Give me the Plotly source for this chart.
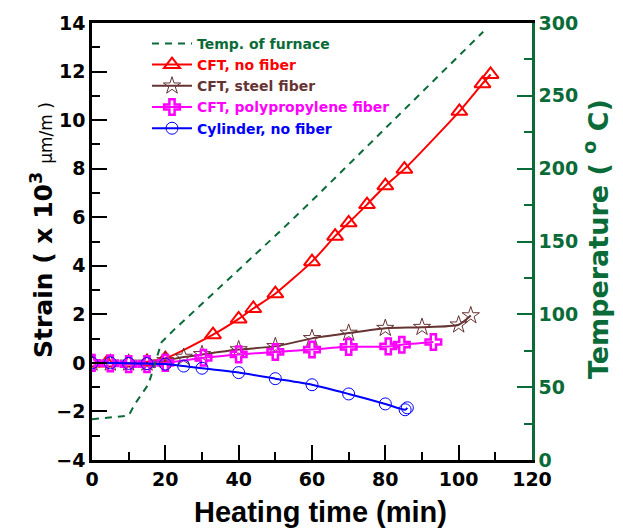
import plotly.graph_objects as go

# ---- data ----
temp_t = [0, 10, 11.7, 15.4, 19.0, 22.2, 51.3, 60.8, 106.7]
temp_T = [28, 30.5, 38.5, 52, 81, 89, 157, 180, 294]

red_t = [0, 4, 10, 15, 20, 33, 40, 44, 50, 60, 66.3, 70, 75, 80, 85.2, 100.2, 106.5, 108.7]
red_s = [0.0, 0.0, 0.0, 0.05, 0.18, 1.16, 1.81, 2.24, 2.85, 4.17, 5.22, 5.77, 6.52, 7.3, 7.98, 10.36, 11.5, 11.88]

steel_t = [0, 5, 10, 15, 20, 25, 30, 40, 50, 60, 70, 80, 90, 100, 103.3]
steel_s = [0.0, 0.0, 0.0, 0.0, 0.1, 0.24, 0.35, 0.55, 0.68, 1.01, 1.23, 1.43, 1.47, 1.57, 1.95]

pp_t = [0, 5, 10, 15, 20, 30.4, 40, 50, 60, 70, 80.8, 84.5, 93.1]
pp_s = [0.0, -0.02, -0.05, -0.05, 0.0, 0.21, 0.35, 0.45, 0.55, 0.66, 0.68, 0.75, 0.86]

cyl_t = [0, 5, 10, 15, 20, 25, 30, 40, 50, 60, 70, 80, 85.4, 86.0]
cyl_s = [0.0, 0.0, -0.02, -0.03, -0.05, -0.13, -0.22, -0.4, -0.65, -0.9, -1.28, -1.69, -1.93, -1.85]

x_title = "Heating time (min)"
y_title = "<b>Strain ( x 10<sup>3</sup></b> <span style='font-size:17px'>μm/m )</span>"
y2_title = "<b>Temperature ( <sup>o</sup> C)</b>"

GREEN = "#0b6b38"
BROWN = "#663333"
FONT = "DejaVu Sans, Liberation Sans, Arial, sans-serif"
TFONT = "Liberation Sans, Arial, sans-serif"

fig = go.Figure()

fig.add_trace(go.Scatter(
    x=temp_t, y=temp_T, yaxis="y2", mode="lines",
    line=dict(color=GREEN, width=2, dash="7px,6px"),
    name=f"<span style='color:{GREEN}'>Temp. of furnace</span>"))

fig.add_trace(go.Scatter(
    x=red_t, y=red_s, mode="lines+markers",
    line=dict(color="#ff0000", width=2, shape="spline", smoothing=0.6),
    marker=dict(symbol="triangle-up-open", size=14, color="#ff0000", line=dict(width=2)),
    name="<span style='color:#ff0000'>CFT, no fiber</span>"))

fig.add_trace(go.Scatter(
    x=steel_t, y=steel_s, mode="lines+markers",
    line=dict(color=BROWN, width=2, shape="spline", smoothing=0.6),
    marker=dict(symbol="star-open", size=13, color=BROWN, line=dict(width=1)),
    name=f"<span style='color:{BROWN}'>CFT, steel fiber</span>"))

fig.add_trace(go.Scatter(
    x=pp_t, y=pp_s, mode="lines+markers",
    line=dict(color="#ff00ff", width=2, shape="spline", smoothing=0.6),
    marker=dict(symbol="cross-open", size=13, color="#ff00ff", line=dict(width=2.5)),
    name="<span style='color:#ff00ff'>CFT, polypropylene fiber</span>"))

fig.add_trace(go.Scatter(
    x=cyl_t, y=cyl_s, mode="lines+markers",
    line=dict(color="#0000ff", width=2, shape="spline", smoothing=0.6),
    marker=dict(symbol="circle-open", size=12, color="#0000ff", line=dict(width=1)),
    name="<span style='color:#0000ff'>Cylinder, no fiber</span>"))

tickfont = dict(family=FONT, size=19, color="black", weight="bold")

fig.update_layout(
    width=623, height=532,
    margin=dict(l=92, r=91, t=18, b=72),
    paper_bgcolor="white", plot_bgcolor="white",
    font=dict(family=FONT),
    showlegend=True,
    legend=dict(x=0.125, y=0.989, xanchor="left", yanchor="top",
                bgcolor="rgba(0,0,0,0)", font=dict(family=FONT, size=14, weight="bold"),
                tracegroupgap=0, itemwidth=40),
    xaxis=dict(range=[0, 120], dtick=20, tick0=0, showgrid=False, zeroline=False,
               showline=True, linecolor="black", linewidth=2.5, mirror=True,
               ticks="inside", ticklen=15, tickwidth=2, tickcolor="black",
               minor=dict(ticks="inside", ticklen=8, dtick=10, tickwidth=2, tickcolor="black"),
               tickfont=tickfont),
    yaxis=dict(range=[-4, 14], dtick=2, tick0=0, showgrid=False, zeroline=False,
               showline=True, linecolor="black", linewidth=2.5,
               ticks="inside", ticklen=15, tickwidth=2, tickcolor="black",
               minor=dict(ticks="inside", ticklen=8, dtick=1, tickwidth=2, tickcolor="black"),
               tickfont=tickfont),
    yaxis2=dict(range=[0, 300], dtick=50, tick0=0, overlaying="y", side="right",
                showgrid=False, zeroline=False,
                showline=True, linecolor=GREEN, linewidth=2.5,
                ticks="inside", ticklen=15, tickwidth=2, tickcolor=GREEN,
                minor=dict(ticks="inside", ticklen=8, dtick=25, tickwidth=2, tickcolor=GREEN),
                tickfont=dict(family=FONT, size=19, color=GREEN, weight="bold")),
    annotations=[
        dict(text=f"<b>{x_title}</b>", xref="paper", yref="paper", x=0.52, y=-0.118,
             xanchor="center", yanchor="middle", showarrow=False,
             font=dict(family=TFONT, size=29, color="black")),
        dict(text=y_title, xref="paper", yref="paper", x=-0.113, y=0.527,
             xanchor="center", yanchor="middle", showarrow=False, textangle=-90,
             font=dict(family=FONT, size=25, color="black")),
        dict(text=y2_title, xref="paper", yref="paper", x=1.145, y=0.505,
             xanchor="center", yanchor="middle", showarrow=False, textangle=-90,
             font=dict(family=FONT, size=27, color=GREEN)),
    ],
)

fig.write_html("out.html")
